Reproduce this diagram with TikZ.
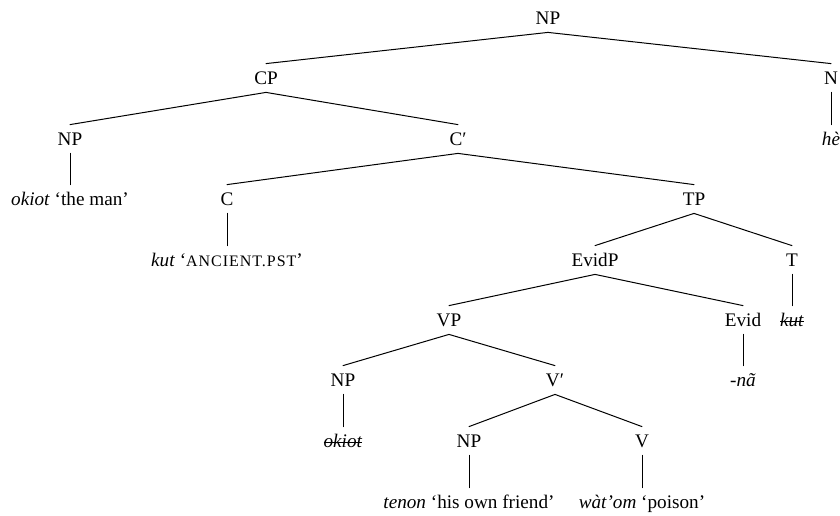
\documentclass[tikz,border=0pt]{standalone}
\usepackage{fontspec}
\setmainfont{Liberation Serif}
\newcommand{\glosscaps}[1]{{\fontsize{8}{9}\selectfont\addfontfeature{LetterSpace=6}#1}}
\newcommand{\struck}[1]{\leavevmode\rlap{#1}\setbox0\hbox{#1}\rule[0.22em]{\wd0}{0.45pt}}
\begin{document}
\begin{tikzpicture}[x=0.5pt,y=-0.5pt,line join=round,line cap=round,
    font=\fontsize{9.6}{11.5}\selectfont,
    every node/.style={inner sep=0pt,text height=10pt,text depth=4pt},
    branch/.style={line width=0.5pt,black}]
  \useasboundingbox (0,0) rectangle (840,515);
  % categories and words, row by row
  \node (NPtop) at (548,18) {NP};
  \node (CP) at (266,78) {CP};
  \node (N) at (831,78) {N};
  \node (NPsubj) at (70,139) {NP};
  \node (Cbar) at (458,139) {C′};
  \node (he) at (831,139) {\textit{hè}};
  \node (man) at (70,199) {\textit{okiot} ‘the man’};
  \node (C) at (227,199) {C};
  \node (TP) at (694,199) {TP};
  \node (kutC) at (227,260) {\textit{kut} ‘\glosscaps{ANCIENT.PST}’};
  \node (EvidP) at (595,260) {EvidP};
  \node (T) at (792,260) {T};
  \node (VP) at (449,320) {VP};
  \node (Evid) at (743,320) {Evid};
  \node (kutT) at (792,320) {\struck{\textit{kut}}};
  \node (NPtrace) at (343,380) {NP};
  \node (Vbar) at (555,380) {V′};
  \node (na) at (743,380) {\textit{-nã}};
  \node (okiot) at (343,441) {\struck{\textit{okiot}}};
  \node (NPobj) at (469,441) {NP};
  \node (V) at (642,441) {V};
  \node (friend) at (469,502) {\textit{tenon} ‘his own friend’};
  \node (poison) at (642,502) {\textit{wàt’om} ‘poison’};
  % branches
  \foreach \up/\down in {NPtop/CP,NPtop/N,CP/NPsubj,CP/Cbar,N/he,NPsubj/man,
      Cbar/C,Cbar/TP,C/kutC,TP/EvidP,TP/T,EvidP/VP,EvidP/Evid,T/kutT,
      VP/NPtrace,VP/Vbar,Evid/na,NPtrace/okiot,Vbar/NPobj,Vbar/V,
      NPobj/friend,V/poison}
    \draw[branch] (\up.south) -- (\down.north);
\end{tikzpicture}
\end{document}
